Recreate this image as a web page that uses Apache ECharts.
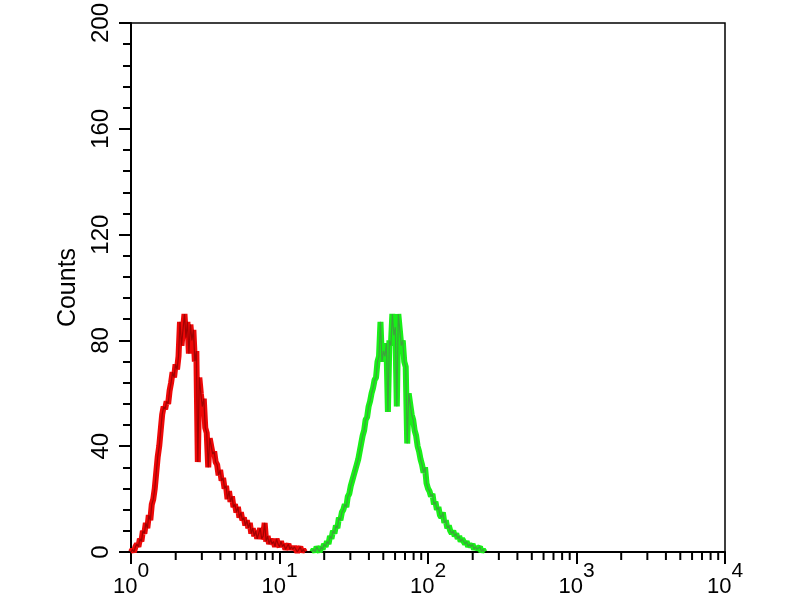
<!DOCTYPE html>
<html>
<head>
<meta charset="utf-8">
<script src="https://cdn.jsdelivr.net/npm/echarts@6/dist/echarts.min.js"></script>
<style>html,body{margin:0;padding:0;background:#fff}#c{width:800px;height:600px}</style>
</head>
<body>
<div id="c"></div>
<script>
// x values are log10 of fluorescence intensity; y values are counts
const redSeries = [
[0.00,0],[0.01,1],[0.02,0],[0.03,2],[0.04,3],[0.05,2],[0.06,5],[0.07,4],[0.08,8],[0.09,7],
[0.10,11],[0.11,9],[0.12,14],[0.13,12],[0.14,18],[0.15,20],[0.16,24],[0.17,30],[0.18,36],[0.19,40],
[0.20,46],[0.21,52],[0.22,55],[0.23,54],[0.24,57],[0.25,56],[0.26,61],[0.27,64],[0.28,68],[0.29,66],
[0.30,71],[0.31,69],[0.32,74],[0.33,87],[0.34,78],[0.35,84],[0.36,90],[0.37,81],[0.38,87],[0.39,75],
[0.40,86],[0.41,80],[0.42,84],[0.43,72],[0.44,76],[0.45,34],[0.46,66],[0.47,60],[0.48,55],[0.49,58],
[0.50,47],[0.51,45],[0.52,32],[0.53,43],[0.54,40],[0.55,37],[0.56,38],[0.57,34],[0.58,33],[0.59,29],
[0.60,31],[0.61,27],[0.62,28],[0.63,24],[0.64,25],[0.65,20],[0.66,23],[0.67,19],[0.68,21],[0.69,17],
[0.70,18],[0.71,15],[0.72,17],[0.73,13],[0.74,15],[0.75,12],[0.76,13],[0.77,10],[0.78,12],[0.79,9],
[0.80,11],[0.81,7],[0.82,9],[0.83,6],[0.84,8],[0.85,5],[0.86,7],[0.87,9],[0.88,5],[0.89,6],
[0.90,11],[0.91,4],[0.92,6],[0.93,3],[0.94,5],[0.95,3],[0.96,4],[0.97,2],[0.98,5],[0.99,3],
[1.00,2],[1.01,4],[1.02,2],[1.03,3],[1.04,1],[1.05,2],[1.06,3],[1.07,1],[1.08,2],[1.09,1],
[1.10,2],[1.11,1],[1.12,0],[1.13,1],[1.14,2],[1.15,0],[1.16,1],[1.17,0]
];
const greenSeries = [
[1.22,0],[1.23,1],[1.24,0],[1.25,2],[1.26,1],[1.27,0],[1.28,2],[1.29,1],
[1.30,3],[1.31,2],[1.32,4],[1.33,3],[1.34,6],[1.35,5],[1.36,8],[1.37,7],[1.38,10],[1.39,9],
[1.40,13],[1.41,12],[1.42,15],[1.43,16],[1.44,18],[1.45,17],[1.46,21],[1.47,22],[1.48,25],[1.49,27],
[1.50,29],[1.51,31],[1.52,33],[1.53,35],[1.54,38],[1.55,41],[1.56,44],[1.57,46],[1.58,50],[1.59,51],
[1.60,55],[1.61,57],[1.62,60],[1.63,62],[1.64,65],[1.65,66],[1.66,72],[1.67,74],[1.68,87],[1.69,72],
[1.70,76],[1.71,74],[1.72,79],[1.73,53],[1.74,80],[1.75,78],[1.76,90],[1.77,82],[1.78,85],[1.79,55],
[1.80,90],[1.81,84],[1.82,78],[1.83,80],[1.84,72],[1.85,70],[1.86,41],[1.87,60],[1.88,56],[1.89,52],
[1.90,50],[1.91,46],[1.92,44],[1.93,40],[1.94,38],[1.95,35],[1.96,33],[1.97,30],[1.98,32],[1.99,26],
[2.00,24],[2.01,23],[2.02,21],[2.03,22],[2.04,18],[2.05,19],[2.06,16],[2.07,17],[2.08,14],[2.09,13],
[2.10,15],[2.11,11],[2.12,12],[2.13,9],[2.14,10],[2.15,8],[2.16,7],[2.17,8],[2.18,6],[2.19,7],
[2.20,5],[2.21,6],[2.22,4],[2.23,5],[2.24,4],[2.25,3],[2.26,4],[2.27,2],[2.28,3],[2.29,2],
[2.30,3],[2.31,1],[2.32,2],[2.33,1],[2.34,1],[2.35,2],[2.36,0],[2.37,1],[2.38,0]
];
const xTickExponents = [0, 1, 2, 3, 4];
const xMinorMultipliers = [2, 3, 4, 5, 6, 7, 8, 9];
const yTicks = [0, 40, 80, 120, 160, 200];
const yAxisName = 'Counts';

const minorTickData = [];
xTickExponents.slice(0, -1).forEach(e => xMinorMultipliers.forEach(m => minorTickData.push([e + Math.log10(m), 0])));

const font = 'Liberation Sans, Arial, sans-serif';
const chart = echarts.init(document.getElementById('c'), null, {renderer: 'canvas'});
chart.setOption({
  animation: false,
  backgroundColor: '#fff',
  grid: {left: 131, right: 75, top: 21, bottom: 48, show: true, borderColor: '#000', borderWidth: 1.5, backgroundColor: '#fff'},
  xAxis: {
    type: 'value', min: xTickExponents[0], max: xTickExponents[xTickExponents.length - 1], interval: 1,
    axisLine: {show: true, onZero: false, lineStyle: {color: '#000', width: 2}},
    axisTick: {show: true, length: 12, lineStyle: {color: '#000', width: 2}},
    splitLine: {show: false},
    axisLabel: {
      margin: 8, color: '#000', fontFamily: font,
      formatter: v => '{b|10}{s|' + v + '}',
      rich: {
        b: {fontSize: 22, fontFamily: font, color: '#000', padding: [16, 0, 0, 0]},
        s: {fontSize: 21, fontFamily: font, color: '#000', padding: [0, 0, 16, 0]}
      }
    }
  },
  yAxis: {
    type: 'value', min: yTicks[0], max: yTicks[yTicks.length - 1], interval: 40,
    name: yAxisName, nameLocation: 'middle', nameRotate: 90, nameGap: 48,
    nameTextStyle: {fontSize: 25, fontFamily: font, color: '#000'},
    axisLine: {show: true, lineStyle: {color: '#000', width: 2}},
    axisTick: {show: true, length: 12, lineStyle: {color: '#000', width: 2}},
    minorTick: {show: true, splitNumber: 5, length: 8, lineStyle: {color: '#000', width: 2}},
    splitLine: {show: false},
    axisLabel: {rotate: 90, margin: 18, fontSize: 24, fontFamily: font, color: '#000'}
  },
  series: [
    {type: 'line', data: redSeries, showSymbol: false, lineStyle: {color: '#ee0808', width: 6}, z: 3},
    {type: 'line', data: redSeries, showSymbol: false, lineStyle: {color: '#880000', width: 1.2, opacity: 0.75}, z: 4},
    {type: 'line', data: greenSeries, showSymbol: false, lineStyle: {color: '#18f018', width: 6}, z: 3},
    {type: 'line', data: greenSeries, showSymbol: false, lineStyle: {color: '#4a8a4a', width: 1.2, opacity: 0.75}, z: 4},
    {
      type: 'custom', data: minorTickData, silent: true, clip: false, z: 10,
      renderItem: (params, api) => {
        const p = api.coord([api.value(0), api.value(1)]);
        return {type: 'line', shape: {x1: p[0], y1: p[1], x2: p[0], y2: p[1] + 8}, style: {stroke: '#000', lineWidth: 2}};
      }
    }
  ]
});
</script>
</body>
</html>
